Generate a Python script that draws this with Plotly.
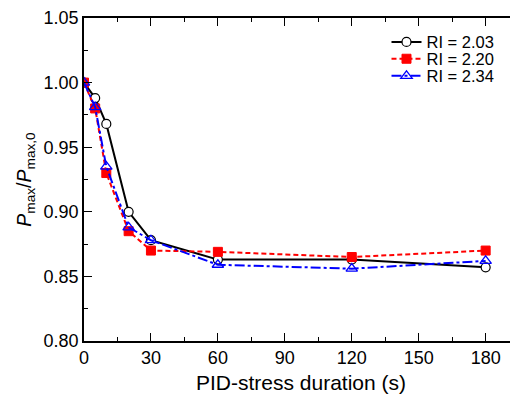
import plotly.graph_objects as go

duration = [0, 5, 10, 20, 30, 60, 120, 180]
ri_203 = [1.000, 0.988, 0.968, 0.900, 0.878, 0.863, 0.863, 0.857]
ri_220 = [1.000, 0.980, 0.930, 0.885, 0.870, 0.869, 0.865, 0.870]
ri_234 = [1.000, 0.981, 0.935, 0.888, 0.878, 0.859, 0.856, 0.862]
names = ["RI = 2.03", "RI = 2.20", "RI = 2.34"]

fig = go.Figure()
fig.add_trace(go.Scatter(
    x=duration, y=ri_203, name=names[0], mode="lines+markers", legend="legend",
    line=dict(color="black", width=2, dash="solid"),
    marker=dict(symbol="circle", size=9, color="white",
                line=dict(color="black", width=1.2)),
))
fig.add_trace(go.Scatter(
    x=duration, y=ri_220, name=names[1], mode="lines+markers", legend="legend2",
    line=dict(color="#ff0000", width=2, dash="5px,3px"),
    marker=dict(symbol="square", size=9, color="#ff0000",
                line=dict(color="#ff0000", width=1)),
))
fig.add_trace(go.Scatter(
    x=duration, y=ri_234, name=names[2], mode="lines+markers", legend="legend3",
    line=dict(color="#0000ff", width=2, dash="10px,3px,3px,3px"),
    marker=dict(symbol="triangle-up-open", size=10, color="#0000ff",
                line=dict(color="#0000ff", width=1.3)),
))

axis_common = dict(
    showline=True, linecolor="black", linewidth=1.5, mirror="allticks",
    ticks="inside", ticklen=8, tickwidth=1.3, tickcolor="black",
    showgrid=False, zeroline=False, automargin=False,
    tickfont=dict(family="Arial", size=18, color="black"),
)

fig.update_xaxes(
    range=[0, 194.5], tickvals=[0, 30, 60, 90, 120, 150, 180],
    minor=dict(ticks="inside", ticklen=4, tickwidth=1.3, tickcolor="black", dtick=15, tick0=0),
    title=dict(text="PID-stress duration (s)", font=dict(family="Arial", size=21, color="black"), standoff=8),
    **axis_common,
)
fig.update_yaxes(
    range=[0.80, 1.05], tickvals=[0.80, 0.85, 0.90, 0.95, 1.00, 1.05], tickformat=".2f",
    minor=dict(ticks="inside", ticklen=4, tickwidth=1.3, tickcolor="black", dtick=0.025, tick0=0.8),
    title=dict(text="<i>P</i><sub>max</sub>/<i>P</i><sub>max,0</sub>",
               font=dict(family="Arial", size=19.5, color="black"), standoff=7),
    **axis_common,
)

leg_common = dict(x=0.697, xanchor="left", yanchor="middle", bgcolor="rgba(0,0,0,0)",
                  font=dict(family="Arial", size=16.5, color="black"), itemwidth=30)
# page body has an 8px margin, so the figure is sized to fit the 518x400 window
fig.update_layout(
    width=510, height=392,
    margin=dict(l=76, r=0, t=10, b=59),
    plot_bgcolor="white", paper_bgcolor="white",
    font=dict(family="Arial", color="black"),
    legend=dict(y=0.925, **leg_common),
    legend2=dict(y=0.873, **leg_common),
    legend3=dict(y=0.820, **leg_common),
    showlegend=True,
)

fig.write_html("out.html")
